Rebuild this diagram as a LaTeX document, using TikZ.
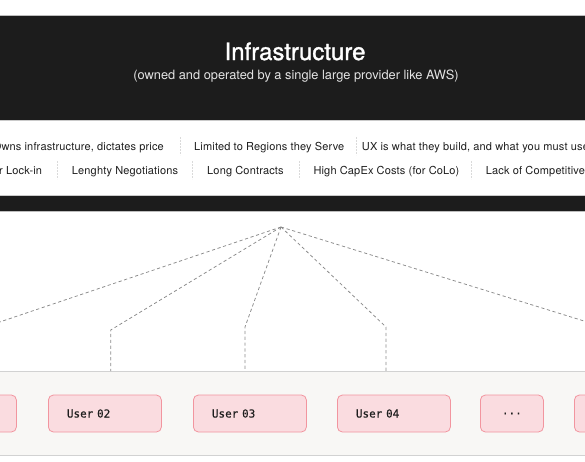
\documentclass[tikz,border=0pt]{standalone}
\usepackage{fontspec}
\setmainfont{TeX Gyre Heros}
\setmonofont{DejaVu Sans Mono}
\definecolor{dark}{HTML}{1C1C1C}
\definecolor{subtxt}{HTML}{E4E4E4}
\definecolor{txt}{HTML}{1E1E1E}
\definecolor{sepgray}{HTML}{DADADA}
\definecolor{frame}{HTML}{BDBDBD}
\definecolor{bandfill}{HTML}{F8F7F5}
\definecolor{bandline}{HTML}{D2D2D2}
\definecolor{pinkfill}{HTML}{FADCE0}
\definecolor{pinkline}{HTML}{F2959F}
\definecolor{linkgray}{HTML}{8A8A8A}
\begin{document}
\begin{tikzpicture}[x=1pt,y=-1pt,
  item/.style={font=\fontsize{11}{13}\selectfont\addfontfeature{LetterSpace=1.5}, text=txt, inner sep=0pt},
  sepline/.style={draw=sepgray, line width=0.7pt, dash pattern=on 2pt off 1pt},
  user/.style={draw=pinkline, fill=pinkfill, rounded corners=5pt, line width=0.8pt,
    minimum height=37pt, inner ysep=0pt, text=txt,
    font=\ttfamily\fontsize{11}{13}\selectfont\addfontfeature{FakeBold=0.4}, anchor=west},
  userbox/.style={user, minimum width=113pt, text width=76pt, inner xsep=18.5pt, align=left},
  link/.style={draw=linkgray, dash pattern=on 3.2pt off 2.6pt, line width=0.75pt}]
\useasboundingbox (0,0) rectangle (585,461);
\clip (0,0) rectangle (585,461);
% infrastructure block
\node[fill=dark, draw=frame, line width=0.8pt, minimum width=590pt, minimum height=196pt, inner sep=0pt, anchor=north west] (infra) at (-2,14.5) {};
\node[fill=white, draw=frame!80, line width=0.8pt, minimum width=590pt, minimum height=75pt, inner sep=0pt, anchor=north west] (traits) at (-2,120) {};
\node[font=\fontsize{24}{28}\selectfont\addfontfeature{FakeBold=1.3}, text=white, inner sep=0pt, anchor=base] (title) at (295,60) {Infrastructure};
\node[font=\fontsize{12.8}{15}\selectfont, text=subtxt, inner sep=0pt, anchor=base] (subtitle) at (296,79) {(owned and operated by a single large provider like AWS)};
% row 1
\node[item, anchor=base east] (t1) at (164,150) {Owns infrastructure, dictates price};
\node[item, anchor=base west] (t2) at (194,150) {Limited to Regions they Serve};
\node[item, anchor=base west] (t3) at (361.7,150) {UX is what they build, and what you must use};
\coordinate (s1a) at (180,137); \coordinate (s1b) at (180,155);
\coordinate (s2a) at (356.7,137); \coordinate (s2b) at (356.7,155);
\draw[sepline] (s1a) -- (s1b);
\draw[sepline] (s2a) -- (s2b);
% row 2
\node[item, anchor=base east] (u1) at (42.3,174.5) {Vendor Lock-in};
\node[item, anchor=base west] (u2) at (71.7,174.5) {Lenghty Negotiations};
\node[item, anchor=base west] (u3) at (207,174.5) {Long Contracts};
\node[item, anchor=base west] (u4) at (313.3,174.5) {High CapEx Costs (for CoLo)};
\node[item, anchor=base west] (u5) at (485.7,174.5) {Lack of Competitive};
\coordinate (r1a) at (57.3,161); \coordinate (r1b) at (57.3,179);
\coordinate (r2a) at (192.7,161); \coordinate (r2b) at (192.7,179);
\coordinate (r3a) at (299,161); \coordinate (r3b) at (299,179);
\coordinate (r4a) at (471,161); \coordinate (r4b) at (471,179);
\draw[sepline] (r1a) -- (r1b);
\draw[sepline] (r2a) -- (r2b);
\draw[sepline] (r3a) -- (r3b);
\draw[sepline] (r4a) -- (r4b);
% users band
\node[fill=bandfill, draw=bandline, line width=0.8pt, minimum width=590pt, minimum height=84pt, inner sep=0pt, anchor=north west] (band) at (-2,371) {};
\node[userbox] (user1) at (-97,413.5) {};
\node[userbox] (user2) at (48,413.5) {User 02};
\node[userbox] (user3) at (193,413.5) {User 03};
\node[userbox] (user4) at (337,413.5) {User 04};
\node[user, minimum width=63pt, inner xsep=0pt, align=center] (more) at (480,413.5) {...};
\node[userbox] (user5) at (574,413.5) {};
% connectors
\coordinate (apex) at (281,227);
\coordinate (b1) at (-24,330);
\coordinate (b2) at (110.7,330);
\coordinate (b3) at (245,327);
\coordinate (b4) at (386,327);
\coordinate (b5) at (613,330);
\draw[link] (apex) -- (b1) -- (b1 |- band.north);
\draw[link] (apex) -- (b2) -- (b2 |- band.north);
\draw[link] (apex) -- (b3) -- (b3 |- band.north);
\draw[link] (apex) -- (b4) -- (b4 |- band.north);
\draw[link] (apex) -- (b5) -- (b5 |- band.north);
\end{tikzpicture}
\end{document}
